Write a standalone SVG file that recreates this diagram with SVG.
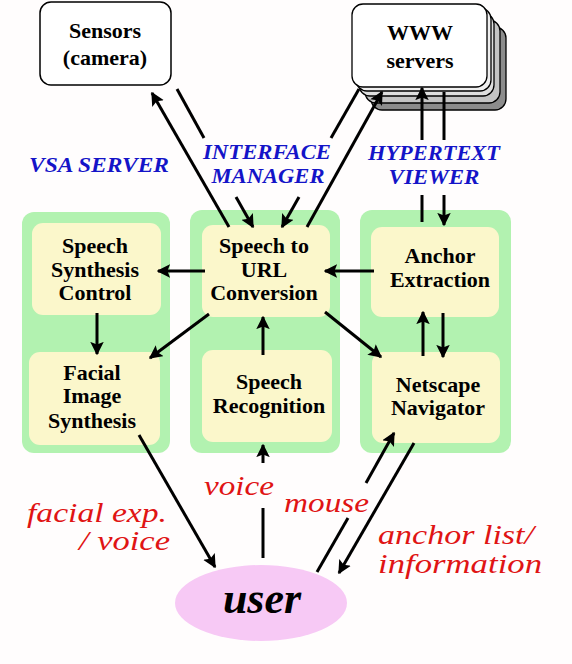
<svg xmlns="http://www.w3.org/2000/svg" width="572" height="664" viewBox="0 0 572 664">
<defs>
<style>
.panel{fill:#b2f2b0;}
.box{fill:#fbf7cb;}
.lbl,.grp,.io,.usr{font-family:"Liberation Serif",Tinos,"Noto Serif","Nimbus Roman","Nimbus Roman No9 L",FreeSerif,Times,"DejaVu Serif",serif;}
.lbl{font-weight:bold;font-size:22px;fill:#000;text-anchor:middle;}
.grp{font-weight:bold;font-style:italic;font-size:20px;fill:#1414c8;text-anchor:middle;}
.io{font-style:italic;font-size:28px;fill:#e01414;}
.usr{font-weight:bold;font-style:italic;font-size:44px;fill:#000;text-anchor:middle;}
.ln{stroke:#000;stroke-width:3;fill:none;}
.ar{stroke:#000;stroke-width:3;fill:none;marker-end:url(#ah);}
.srv{stroke:#000;stroke-width:1.3;}
</style>
<marker id="ah" viewBox="0 0 10 10" refX="9" refY="5" markerWidth="4.5" markerHeight="4.5" orient="auto" markerUnits="strokeWidth">
<path d="M0,0 L10,5 L0,10 L2,5 Z" fill="#000"/>
</marker>
</defs>
<rect width="572" height="664" fill="#fffdfd"/>

<g id="sensors">
<rect x="40" y="2" width="131" height="83" rx="11" fill="#fff" stroke="#000" stroke-width="1.5"/>
<text class="lbl" x="105" y="38" font-size="24">Sensors</text>
<text class="lbl" x="105" y="65" font-size="24">(camera)</text>
</g>

<g id="www-servers">
<rect class="srv" x="371" y="27" width="135" height="83" rx="11" fill="#8c8c8c"/>
<rect class="srv" x="365" y="20" width="135" height="83" rx="11" fill="#c4c4c4"/>
<rect class="srv" x="359" y="13" width="135" height="83" rx="11" fill="#dedede"/>
<rect class="srv" x="356" y="8" width="135" height="83" rx="11" fill="#efefef"/>
<rect class="srv" x="352" y="4" width="135" height="83" rx="11" fill="#fff"/>
<text class="lbl" x="420" y="40" font-size="26">WWW</text>
<text class="lbl" x="420" y="68" font-size="24">servers</text>
</g>

<g id="vsa-server">
<rect class="panel" x="22" y="212" width="148" height="241" rx="12"/>
<text class="grp" x="99" y="172" textLength="140" lengthAdjust="spacingAndGlyphs">VSA SERVER</text>
</g>
<g id="interface-manager">
<rect class="panel" x="190" y="210" width="150" height="243" rx="12"/>
<text class="grp" x="267" y="159" textLength="128" lengthAdjust="spacingAndGlyphs">INTERFACE</text>
<text class="grp" x="268" y="183" textLength="113" lengthAdjust="spacingAndGlyphs">MANAGER</text>
</g>
<g id="hypertext-viewer">
<rect class="panel" x="360" y="210" width="151" height="243" rx="12"/>
<text class="grp" x="434" y="160" textLength="132" lengthAdjust="spacingAndGlyphs">HYPERTEXT</text>
<text class="grp" x="434" y="184" textLength="91" lengthAdjust="spacingAndGlyphs">VIEWER</text>
</g>

<g id="speech-synthesis-control">
<rect class="box" x="32" y="223" width="129" height="92" rx="11"/>
<text class="lbl" x="95" y="253">Speech</text>
<text class="lbl" x="95" y="277">Synthesis</text>
<text class="lbl" x="95" y="300">Control</text>
</g>
<g id="facial-image-synthesis">
<rect class="box" x="29" y="352" width="131" height="93" rx="11"/>
<text class="lbl" x="92" y="380">Facial</text>
<text class="lbl" x="92" y="403">Image</text>
<text class="lbl" x="92" y="428">Synthesis</text>
</g>
<g id="speech-to-url">
<rect class="box" x="202" y="225" width="128" height="92" rx="11"/>
<text class="lbl" x="264" y="253">Speech to</text>
<text class="lbl" x="264" y="277">URL</text>
<text class="lbl" x="264" y="300">Conversion</text>
</g>
<g id="speech-recognition">
<rect class="box" x="202" y="350" width="130" height="92" rx="11"/>
<text class="lbl" x="269" y="389">Speech</text>
<text class="lbl" x="269" y="413">Recognition</text>
</g>
<g id="anchor-extraction">
<rect class="box" x="371" y="227" width="128" height="90" rx="11"/>
<text class="lbl" x="440" y="263">Anchor</text>
<text class="lbl" x="440" y="287">Extraction</text>
</g>
<g id="netscape-navigator">
<rect class="box" x="372" y="352" width="128" height="91" rx="11"/>
<text class="lbl" x="438" y="392">Netscape</text>
<text class="lbl" x="438" y="415">Navigator</text>
</g>

<g id="user">
<ellipse cx="261" cy="603" rx="86" ry="38" fill="#f7c9f5"/>
<text class="usr" x="262" y="613">user</text>
</g>

<g id="io-labels">
<text class="io" x="204" y="495" textLength="70" lengthAdjust="spacingAndGlyphs">voice</text>
<text class="io" x="27" y="522" textLength="140" lengthAdjust="spacingAndGlyphs">facial exp.</text>
<text class="io" x="79" y="550" textLength="91" lengthAdjust="spacingAndGlyphs">/ voice</text>
<text class="io" x="284" y="512" textLength="85" lengthAdjust="spacingAndGlyphs">mouse</text>
<text class="io" x="378" y="544" textLength="156" lengthAdjust="spacingAndGlyphs">anchor list/</text>
<text class="io" x="378" y="573" textLength="164" lengthAdjust="spacingAndGlyphs">information</text>
</g>

<g id="connectors">
<path class="ar" d="M229,227 L152,93"/>
<path class="ln" d="M177,89 L204,138"/>
<path class="ar" d="M236,197 L253,227"/>
<path class="ln" d="M359,89 L331,138"/>
<path class="ar" d="M299,197 L282,227"/>
<path class="ar" d="M307,227 L382,92"/>
<path class="ln" d="M422,222 L422,195"/>
<path class="ar" d="M422,140 L422,88"/>
<path class="ln" d="M444,92 L444,140"/>
<path class="ar" d="M444,195 L444,225"/>
<path class="ar" d="M205,271 L158,271"/>
<path class="ar" d="M374,271 L325,271"/>
<path class="ar" d="M97,313 L97,354"/>
<path class="ar" d="M209,314 L150,358"/>
<path class="ar" d="M263,355 L263,317"/>
<path class="ar" d="M325,312 L381,357"/>
<path class="ar" d="M423,356 L423,312"/>
<path class="ar" d="M443,313 L443,357"/>
<path class="ar" d="M139,435 L215,567"/>
<path class="ln" d="M263,558 L263,508"/>
<path class="ar" d="M263,463 L263,445"/>
<path class="ln" d="M317,572 L348,518"/>
<path class="ar" d="M366,483 L394,433"/>
<path class="ar" d="M414,443 L339,573"/>
</g>
</svg>
